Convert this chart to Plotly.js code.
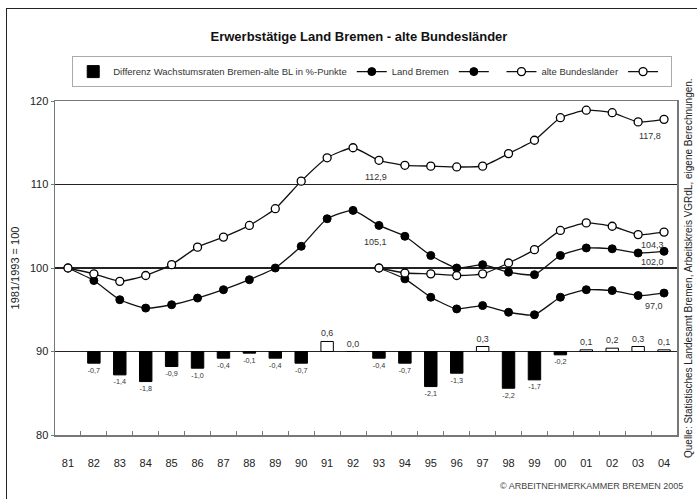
<!DOCTYPE html>
<html><head><meta charset="utf-8">
<script src="https://cdn.plot.ly/plotly-3.0.1.min.js"></script>
<style>
html,body{margin:0;padding:0;background:#fff;overflow:hidden;}
#frame{position:absolute;left:6px;top:8px;width:720px;height:520px;border:1.5px solid #222;box-sizing:border-box;pointer-events:none;z-index:5;}
#chart{position:absolute;left:0;top:0;width:697px;height:499px;}
</style></head>
<body>
<div id="chart"></div>
<div id="frame"></div>
<script>
const years = ["81","82","83","84","85","86","87","88","89","90","91","92","93","94","95","96","97","98","99","00","01","02","03","04"];
const diffYears = years.slice(1);
const diffValues = [-0.7,-1.4,-1.8,-0.9,-1.0,-0.4,-0.1,-0.4,-0.7,0.6,0.0,-0.4,-0.7,-2.1,-1.3,0.3,-2.2,-1.7,-0.2,0.1,0.2,0.3,0.1];
const bremen81 = [100,98.5,96.2,95.2,95.6,96.4,97.4,98.6,100.0,102.6,105.9,106.9,105.1,103.8,101.5,100.0,100.4,99.5,99.2,101.5,102.4,102.3,101.8,102.0];
const altBL81 = [100,99.3,98.4,99.1,100.4,102.5,103.7,105.1,107.1,110.4,113.2,114.4,112.9,112.3,112.2,112.1,112.2,113.7,115.3,118.0,118.9,118.6,117.5,117.8];
const years93 = years.slice(12);
const bremen93 = [100,98.7,96.5,95.1,95.5,94.7,94.4,96.5,97.4,97.3,96.7,97.0];
const altBL93 = [100,99.4,99.3,99.1,99.3,100.6,102.2,104.5,105.4,105.0,104.0,104.3];
const yTicks = [80,90,100,110,120];

const fmt = v => v.toFixed(1).replace('.', ',');
const lineStyle = {color:'#111', width:1.3, shape:'spline', smoothing:0.5};
const filled = {symbol:'circle', size:8, color:'#000', line:{color:'#000', width:1}};
const open = {symbol:'circle', size:8, color:'#fff', line:{color:'#000', width:1.3}};

const traces = [
  {type:'bar', x:diffYears, y:diffValues, yaxis:'y2', name:'Differenz Wachstumsraten Bremen-alte BL in %-Punkte',
   width:0.48, text:diffValues.map(fmt), textposition:'outside', cliponaxis:false,
   textfont:{size:9, color:'#333', family:'Liberation Sans, Arial, sans-serif'},
   marker:{color:diffValues.map(v => v > 0 ? '#fff' : '#000'), line:{color:'#000', width:1}}},
  {type:'scatter', mode:'lines+markers', x:years, y:bremen81, name:'Land Bremen', line:lineStyle, marker:filled},
  {type:'scatter', mode:'lines+markers', x:years93, y:bremen93, name:' ', line:lineStyle, marker:filled},
  {type:'scatter', mode:'lines+markers', x:years, y:altBL81, name:'alte Bundesländer', line:lineStyle, marker:open},
  {type:'scatter', mode:'lines+markers', x:years93, y:altBL93, name:' ', line:lineStyle, marker:open}
];

const lab = (cat, y, xs, ys) => ({x:years.indexOf(cat), y:y, xref:'x', yref:'y', text:fmt(y), showarrow:false,
  xshift:xs, yshift:ys, font:{size:9, color:'#333'}});
const i93 = years.indexOf('93');
const last = years.length - 1;
const annotations = [
  lab('93', altBL81[i93], -3, -17),
  lab('93', bremen81[i93], -3, -17),
  lab('04', altBL81[last], -14, -17),
  lab('04', altBL93[altBL93.length-1], -12, -13),
  lab('04', bremen81[last], -12, -11),
  lab('04', bremen93[bremen93.length-1], -10, -13),
  {xref:'paper', yref:'paper', x:1.0177, y:0.5, text:'Quelle: Statistisches Landesamt Bremen, Arbeitskreis VGRdL, eigene Berechnungen.',
   textangle:-90, showarrow:false, xanchor:'center', yanchor:'middle', font:{size:10, color:'#222'}},
  {xref:'paper', yref:'paper', x:1.013, y:-0.153, text:'© ARBEITNEHMERKAMMER BREMEN 2005', showarrow:false,
   xanchor:'right', yanchor:'middle', font:{size:9, color:'#444'}}
];

const layout = {
  width:697, height:499,
  margin:{l:55, r:20, t:101, b:64},
  paper_bgcolor:'#fff', plot_bgcolor:'#fff',
  font:{family:'Liberation Sans, Arial, sans-serif', color:'#222'},
  title:{text:'<b>Erwerbstätige Land Bremen - alte Bundesländer</b>', x:0.515, xanchor:'center', y:0.926, yanchor:'middle', font:{size:13, color:'#111'}},
  showlegend:true,
  legend:{orientation:'h', x:0.51, xanchor:'center', y:1.088, yanchor:'middle', bordercolor:'#aaa', borderwidth:1,
    font:{size:9.5, color:'#333'}, itemwidth:30, traceorder:'normal', tracegroupgap:0},
  xaxis:{type:'category', categoryorder:'array', categoryarray:years, range:[-0.5,23.5],
    tickson:'boundaries', ticks:'inside', ticklen:4, tickcolor:'#777', ticklabelstandoff:17,
    showline:true, linecolor:'#777', linewidth:1.5, mirror:true, showgrid:false,
    tickfont:{size:11, color:'#222'}},
  yaxis:{range:[80,120], tickvals:yTicks, ticktext:yTicks.map(String), ticks:'outside', ticklen:3, tickcolor:'#777',
    showline:true, linecolor:'#777', linewidth:1.5, mirror:true, showgrid:true, gridcolor:'#222', gridwidth:1.2,
    zeroline:false, tickfont:{size:11, color:'#222'},
    title:{text:'1981/1993 = 100', font:{size:11, color:'#222'}, standoff:8}},
  yaxis2:{overlaying:'y', range:[-5,15], visible:false, showgrid:false, zeroline:false},
  annotations:annotations,
  bargap:0.5
};

Plotly.newPlot('chart', traces, layout, {displayModeBar:false, staticPlot:true});
</script>
</body></html>
